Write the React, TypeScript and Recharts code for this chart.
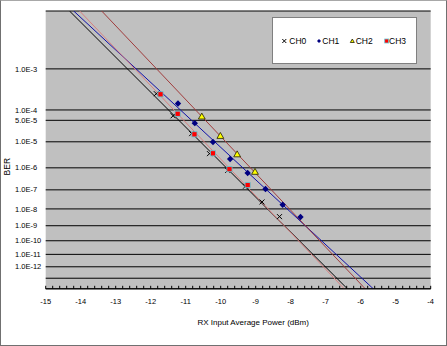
import React from "react";
import {
  ComposedChart,
  Line,
  Scatter,
  XAxis,
  YAxis,
  CartesianGrid,
  Label,
} from "recharts";

const FONT = '"Liberation Sans", Arial, sans-serif';

// x axis (dBm)
const xTickLabels = [-15, -14, -13, -12, -11, -10, -9, -8, -7, -6, -5, -4];
const xMinorSteps = 5;

// y axis (BER on a -log(-log) scale)
const yTickBer = [1e-2, 1e-3, 1e-4, 5e-5, 1e-5, 1e-6, 1e-7, 1e-8, 1e-9, 1e-10, 1e-11, 1e-12, 1e-13, 1e-14];
const yTickLabels = ["", "1.0E-3", "1.0E-4", "5.0E-5", "1.0E-5", "1.0E-6", "1.0E-7", "1.0E-8", "1.0E-9", "1.0E-10", "1.0E-11", "1.0E-12", "", ""];

// measured points
const ch0Power = [-11.84, -11.36, -10.83, -10.32, -9.8, -9.29, -8.82, -8.32];
const ch0Ber = [2.7e-4, 6.8e-5, 1.9e-5, 3.7e-6, 7.8e-7, 1.5e-7, 2.4e-8, 3.6e-9];

const ch1Power = [-11.22, -10.74, -10.22, -9.73, -9.23, -8.72, -8.23, -7.72];
const ch1Ber = [1.5e-4, 4.1e-5, 9.8e-6, 2.3e-6, 6.0e-7, 1.1e-7, 1.7e-8, 3.4e-9];

const ch2Power = [-10.54, -10.01, -9.53, -9.02];
const ch2Ber = [6.5e-5, 1.6e-5, 3.5e-6, 6.8e-7];

const ch3Power = [-11.72, -11.23, -10.75, -10.22, -9.75, -9.23];
const ch3Ber = [2.6e-4, 7.8e-5, 1.8e-5, 3.8e-6, 8.8e-7, 1.7e-7];

// fitted lines, read at the top and bottom edge of the plot
const fitBer = [1e-2, 1e-14];
const ch0FitPower = [-14.32, -6.38];
const ch1FitPower = [-14.2, -5.64];
const ch2FitPower = [-13.4, -5.87];
const ch3FitPower = [-14.03, -6.47];

const berScale = (ber: number) => -Math.log10(-Math.log10(ber));
const toPoints = (xs: number[], bers: number[]) =>
  xs.map((x, i) => ({ x, t: berScale(bers[i]) }));

const yTicks = yTickBer.map(berScale);
const yDomain = [berScale(yTickBer[yTickBer.length - 1]), berScale(yTickBer[0])];

const xTicks: number[] = [];
xTickLabels.forEach((v, i) => {
  if (i === xTickLabels.length - 1) {
    xTicks.push(v);
    return;
  }
  for (let k = 0; k < xMinorSteps; k++) xTicks.push(v + k / xMinorSteps);
});

const XMark = ({ cx, cy, s = 2.5 }: any) => (
  <g stroke="#000" strokeWidth={1}>
    <line x1={cx - s} y1={cy - s} x2={cx + s} y2={cy + s} />
    <line x1={cx - s} y1={cy + s} x2={cx + s} y2={cy - s} />
  </g>
);

const Diamond = ({ cx, cy, s = 3.2 }: any) => (
  <polygon
    points={`${cx},${cy - s} ${cx + s},${cy} ${cx},${cy + s} ${cx - s},${cy}`}
    fill="#000080"
  />
);

const Triangle = ({ cx, cy, s = 3.4 }: any) => (
  <polygon
    points={`${cx},${cy - s} ${cx + s},${cy + s * 0.75} ${cx - s},${cy + s * 0.75}`}
    fill="#FFFF00"
    stroke="#202000"
    strokeWidth={0.8}
  />
);

const Square = ({ cx, cy, s = 2.6 }: any) => (
  <rect
    x={cx - s}
    y={cy - s}
    width={s * 2}
    height={s * 2}
    fill="#FF0000"
    stroke="#66C8D8"
    strokeWidth={0.8}
  />
);

const XTick = ({ x, y, payload }: any) => {
  const v = payload.value;
  const major = Math.abs(v - Math.round(v)) < 1e-6;
  return (
    <g>
      <line x1={x} x2={x} y1={y} y2={y - 3} stroke="#000" />
      {major && (
        <text x={x} y={y + 13} dy="0.35em" textAnchor="middle" fontSize={7.5} fill="#000" fontFamily={FONT}>
          {Math.round(v)}
        </text>
      )}
    </g>
  );
};

const YTick = ({ y, payload }: any) => {
  const i = yTicks.findIndex((t) => Math.abs(t - payload.value) < 1e-9);
  const label = yTickLabels[i];
  if (!label) return <g />;
  return (
    <text x={15} y={y} dy="0.35em" textAnchor="start" fontSize={7.5} fill="#000" fontFamily={FONT}>
      {label}
    </text>
  );
};

const XTitle = ({ viewBox }: any) => (
  <text
    x={viewBox.x + viewBox.width / 2 + 15}
    y={viewBox.y + 33}
    dy="0.35em"
    textAnchor="middle"
    fontSize={8}
    fill="#000"
    fontFamily={FONT}
  >
    RX Input Average Power (dBm)
  </text>
);

const YTitle = ({ viewBox }: any) => {
  const cx = viewBox.x + 7.5;
  const cy = viewBox.y + 155.7;
  return (
    <text
      x={cx}
      y={cy}
      dy="0.35em"
      textAnchor="middle"
      fontSize={8.5}
      fill="#000"
      fontFamily={FONT}
      transform={`rotate(-90 ${cx} ${cy})`}
    >
      BER
    </text>
  );
};

const legendItems = [
  { name: "CH0", Marker: XMark, mx: 12.3, tx: 17.3 },
  { name: "CH1", Marker: Diamond, mx: 47, tx: 50.3 },
  { name: "CH2", Marker: Triangle, mx: 80.3, tx: 83.7 },
  { name: "CH3", Marker: Square, mx: 114.7, tx: 117 },
];

export default function App() {
  const pts0 = toPoints(ch0Power, ch0Ber);
  const pts1 = toPoints(ch1Power, ch1Ber);
  const pts2 = toPoints(ch2Power, ch2Ber);
  const pts3 = toPoints(ch3Power, ch3Ber);

  return (
    <div style={{ position: "relative", width: 447, height: 346, background: "#fff" }}>
      <style>{"body{margin:0}"}</style>
      <ComposedChart width={447} height={346} margin={{ top: 11, right: 16.3, bottom: 0, left: 0 }}>
        <CartesianGrid vertical={false} stroke="#000" fill="#C0C0C0" fillOpacity={1} />
        <XAxis
          type="number"
          dataKey="x"
          domain={[-15, -4]}
          ticks={xTicks}
          interval={0}
          allowDataOverflow
          height={57.2}
          tickSize={0}
          tickMargin={0}
          tickLine={false}
          axisLine={{ stroke: "#000" }}
          tick={<XTick />}
        >
          <Label content={<XTitle />} />
        </XAxis>
        <YAxis
          type="number"
          dataKey="t"
          domain={yDomain}
          ticks={yTicks}
          interval={0}
          allowDataOverflow
          width={45.7}
          axisLine={false}
          tickLine={false}
          tickSize={0}
          tick={<YTick />}
        >
          <Label content={<YTitle />} />
        </YAxis>

        <Line data={toPoints(ch0FitPower, fitBer)} dataKey="t" stroke="#000000" strokeWidth={1} dot={false} isAnimationActive={false} />
        <Line data={toPoints(ch1FitPower, fitBer)} dataKey="t" stroke="#1010A8" strokeWidth={1} dot={false} isAnimationActive={false} />
        <Line data={toPoints(ch2FitPower, fitBer)} dataKey="t" stroke="#A03C3C" strokeWidth={1} dot={false} isAnimationActive={false} />
        <Line data={toPoints(ch3FitPower, fitBer)} dataKey="t" stroke="#D88080" strokeWidth={1} dot={false} isAnimationActive={false} />

        <Scatter name="CH0" data={pts0} dataKey="t" shape={(p: any) => <XMark cx={p.cx} cy={p.cy} />} isAnimationActive={false} />
        <Scatter name="CH1" data={pts1} dataKey="t" shape={(p: any) => <Diamond cx={p.cx} cy={p.cy} />} isAnimationActive={false} />
        <Scatter name="CH2" data={pts2} dataKey="t" shape={(p: any) => <Triangle cx={p.cx} cy={p.cy} />} isAnimationActive={false} />
        <Scatter name="CH3" data={pts3} dataKey="t" shape={(p: any) => <Square cx={p.cx} cy={p.cy} />} isAnimationActive={false} />
      </ComposedChart>

      <svg
        width={145}
        height={47}
        style={{ position: "absolute", left: 272, top: 17 }}
      >
        <rect x={0.5} y={0.5} width={144} height={46} fill="#fff" stroke="#808080" />
        {legendItems.map(({ name, Marker, mx, tx }) => (
          <g key={name}>
            <Marker cx={mx} cy={24} s={2} />
            <text x={tx} y={24} dy="0.35em" fontSize={8.5} fill="#000" fontFamily={FONT}>
              {name}
            </text>
          </g>
        ))}
      </svg>

      <div
        style={{
          position: "absolute",
          inset: 0,
          border: "1px solid #707070",
          borderTopColor: "#a8a8a8",
          pointerEvents: "none",
        }}
      />
    </div>
  );
}
